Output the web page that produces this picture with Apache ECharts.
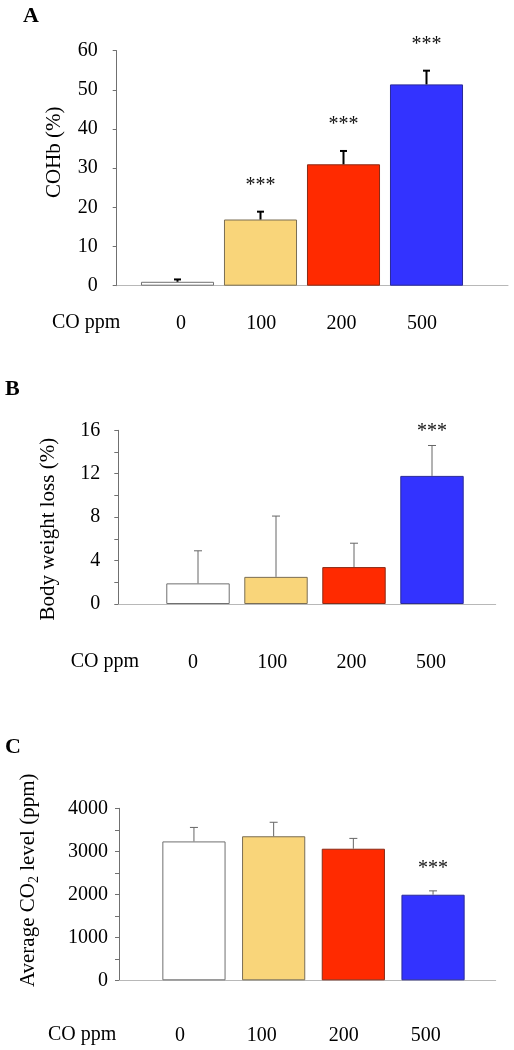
<!DOCTYPE html>
<html>
<head>
<meta charset="utf-8">
<script src="https://cdn.jsdelivr.net/npm/echarts@6/dist/echarts.min.js"></script>
<style>
html,body{margin:0;padding:0;background:#fff;}
#chart{width:514px;height:1050px;}
</style>
</head>
<body>
<div id="chart"></div>
<script>
// ---- data ----
const categories = ['0', '100', '200', '500'];
const xTitle = 'CO ppm';

const cohbMean = [1.0, 16.9, 31.0, 51.4];
const cohbErr  = [0.6, 2.0, 3.4, 3.5];
const cohbSig  = ['', '***', '***', '***'];

const bwMean = [1.9, 2.5, 3.4, 11.8];
const bwErr  = [3.0, 5.6, 2.2, 2.8];
const bwSig  = ['', '', '', '***'];

const co2Mean = [3230, 3350, 3060, 1990];
const co2Err  = [325, 325, 240, 90];
const co2Sig  = ['', '', '', '***'];

const barColors   = ['#FFFFFF', '#F9D57A', '#FF2A00', '#3333FF'];
const barBorders  = ['#707070', '#7a6e55', '#8a2a15', '#2a2a9a'];

// ---- helpers ----
const FONT = 'Liberation Serif, Times New Roman, serif';

function makeBars(means, xi, gap) {
  return {
    type: 'bar', xAxisIndex: xi, yAxisIndex: xi, z: 2,
    data: means.map((v, i) => ({ value: v, itemStyle: { color: barColors[i], borderColor: barBorders[i], borderWidth: 1 } })),
    barCategoryGap: gap, animation: false
  };
}

function makeErr(means, errs, sig, xi, st) {
  return {
    type: 'custom', xAxisIndex: xi, yAxisIndex: xi, z: 5, animation: false, silent: true,
    data: means.map((v, i) => [i, v, errs[i]]),
    encode: { x: 0, y: 1 },
    renderItem: function (params, api) {
      const i = api.value(0), m = api.value(1), e = api.value(2);
      const p0 = api.coord([i, m]);
      const p1 = api.coord([i, m + e]);
      const children = [
        { type: 'line', shape: { x1: p0[0], y1: p0[1], x2: p1[0], y2: p1[1] }, style: { stroke: st.color, lineWidth: st.width } },
        { type: 'line', shape: { x1: p1[0] - st.cap / 2, y1: p1[1], x2: p1[0] + st.cap / 2, y2: p1[1] }, style: { stroke: st.color, lineWidth: st.width } }
      ];
      const s = sig[params.dataIndex];
      if (s) {
        children.push({ type: 'text', style: { text: s, x: p1[0], y: p1[1] - st.starOff, align: 'center', verticalAlign: 'middle', font: '20px ' + FONT, fill: '#111' } });
      }
      return { type: 'group', children: children };
    }
  };
}

function panel(g, cfg) {
  const grids = [
    { left: cfg.axisLeft, right: cfg.axisRight, top: cfg.top, height: cfg.h },
    { left: cfg.barLeft, width: cfg.barW, top: cfg.top, height: cfg.h },
    { left: cfg.labLeft, width: cfg.labW, top: cfg.top, height: cfg.h }
  ];
  const xAxes = [
    { gridIndex: g, type: 'value', min: 0, max: 1, axisLine: { show: true, onZero: false, lineStyle: { color: '#b8b8b8', width: 1 } }, axisTick: { show: false }, axisLabel: { show: false }, splitLine: { show: false } },
    { gridIndex: g + 1, type: 'category', data: categories, axisLine: { show: false }, axisTick: { show: false }, axisLabel: { show: false }, splitLine: { show: false } },
    { gridIndex: g + 2, type: 'category', data: categories, axisLine: { show: false }, axisTick: { show: false }, splitLine: { show: false },
      axisLabel: { show: true, margin: cfg.labMargin, color: '#000', fontFamily: FONT, fontSize: 20 } }
  ];
  const yAxes = [
    { gridIndex: g, type: 'value', min: cfg.min, max: cfg.max, interval: cfg.interval,
      axisLine: { show: true, onZero: false, lineStyle: { color: '#707070', width: 1 } },
      axisTick: { show: true, inside: false, length: 4, lineStyle: { color: '#707070' } },
      minorTick: { show: !!cfg.minor, splitNumber: 2, length: 4, lineStyle: { color: '#707070' } },
      splitLine: { show: false }, minorSplitLine: { show: false },
      axisLabel: { margin: cfg.tickMargin, color: '#000', fontFamily: FONT, fontSize: 20, formatter: (v) => String(v) },
      name: cfg.name, nameLocation: 'middle', nameGap: cfg.nameGap,
      nameTextStyle: { color: '#000', fontFamily: FONT, fontSize: 21, padding: cfg.namePad, rich: { sub: { fontFamily: FONT, fontSize: 14, verticalAlign: 'bottom', padding: [12, 0, 0, 0] } } }
    },
    { gridIndex: g + 1, type: 'value', min: cfg.min, max: cfg.max, show: false },
    { gridIndex: g + 2, type: 'value', min: cfg.min, max: cfg.max, show: false }
  ];
  return { grids, xAxes, yAxes };
}

const pA = panel(0, { axisLeft: 116.7, axisRight: 6, top: 50.7, h: 235, barLeft: 136, barW: 332, labLeft: 140.8, labW: 321.3,
  labMargin: 28, min: 0, max: 60, interval: 10, minor: false, tickMargin: 19, name: 'COHb (%)', nameGap: 52, namePad: [0, 0, 0, 32] });
const pB = panel(3, { axisLeft: 118.3, axisRight: 18.3, top: 430.3, h: 173.7, barLeft: 159, barW: 312, labLeft: 153.3, labW: 317.3,
  labMargin: 48.5, min: 0, max: 16, interval: 4, minor: true, tickMargin: 18, name: 'Body weight loss (%)', nameGap: 59, namePad: [0, 24, 0, 0] });
const pC = panel(6, { axisLeft: 119, axisRight: 18.3, top: 808.3, h: 172, barLeft: 154.1, barW: 318.8, labLeft: 139, labW: 327.6,
  labMargin: 45, min: 0, max: 4000, interval: 1000, minor: true, tickMargin: 11, name: 'Average CO{sub|2} level (ppm)', nameGap: 78, namePad: [0, 0, 0, 28] });

const titleStyle = { fontFamily: FONT, fontWeight: 'bold', fontSize: 22, color: '#000' };

const option = {
  animation: false,
  backgroundColor: '#fff',
  title: [
    { text: 'A', left: 23, top: 5, padding: 0, textStyle: titleStyle },
    { text: 'B', left: 5, top: 378, padding: 0, textStyle: titleStyle },
    { text: 'C', left: 5, top: 736, padding: 0, textStyle: titleStyle }
  ],
  graphic: [
    { type: 'text', left: 87 - 35, top: 322 - 9, style: { text: xTitle, font: '20px ' + FONT, fill: '#000' } },
    { type: 'text', left: 105.7 - 35, top: 660.7 - 9, style: { text: xTitle, font: '20px ' + FONT, fill: '#000' } },
    { type: 'text', left: 83 - 35, top: 1034 - 9, style: { text: xTitle, font: '20px ' + FONT, fill: '#000' } }
  ],
  grid: [].concat(pA.grids, pB.grids, pC.grids),
  xAxis: [].concat(pA.xAxes, pB.xAxes, pC.xAxes),
  yAxis: [].concat(pA.yAxes, pB.yAxes, pC.yAxes),
  series: [
    makeBars(cohbMean, 1, '12%'), makeErr(cohbMean, cohbErr, cohbSig, 1, { color: '#000', width: 2, cap: 7, starOff: 26 }),
    makeBars(bwMean, 4, '18.7%'), makeErr(bwMean, bwErr, bwSig, 4, { color: '#666', width: 1, cap: 8, starOff: 14 }),
    makeBars(co2Mean, 7, '20.7%'), makeErr(co2Mean, co2Err, co2Sig, 7, { color: '#666', width: 1, cap: 8, starOff: 22 })
  ]
};

const chart = echarts.init(document.getElementById('chart'), null, { renderer: 'canvas' });
chart.setOption(option);
</script>
</body>
</html>
